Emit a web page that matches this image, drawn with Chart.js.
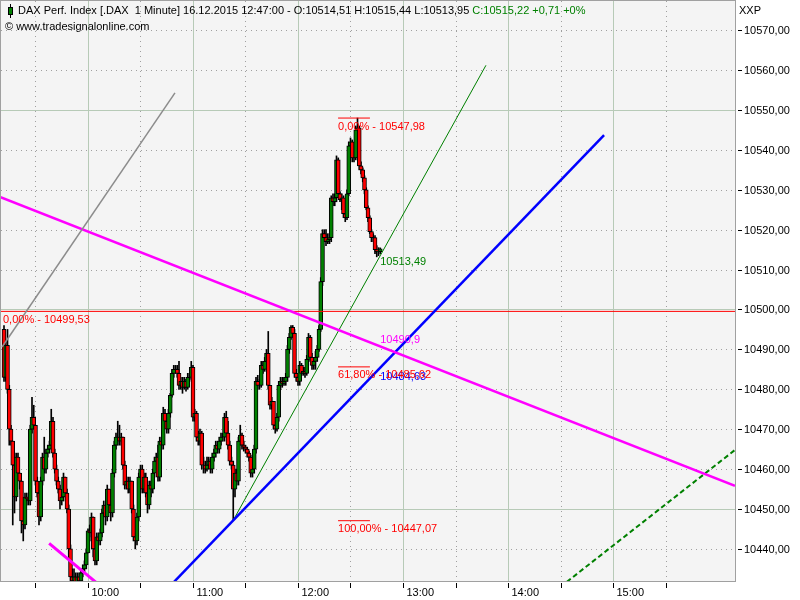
<!DOCTYPE html>
<html><head><meta charset="utf-8">
<script src="https://cdn.jsdelivr.net/npm/chart.js@4.4.0/dist/chart.umd.min.js"></script>
<style>html,body{margin:0;padding:0;background:#fff;}canvas{display:block;}</style>
</head><body>
<canvas id="c" width="800" height="600"></canvas>
<script>
// ---- DATA ----
// first candle time, minutes relative to 10:00 (09:12)
const firstMinute = -48;
const firstOpen = 10495;
const closes = [
10483,10491,10480,10470,10467,10461,10453,10463,10459,10457,10447,10446,
10453,10452.5,10452,10470,10473,10471,10457,10454,10448,10457,10463,10460,
10464,10465,10466,10472,10464,10460,10457,10455,10452,10453,10458,10454,
10450,10440,10433,10432,10433,10431,10433,10432,10434,10435,10436,10439,
10444.5,10444,10448,10440,10437,10443,10442,10444,10449,10451,10448,10455,
10451,10449,10459,10466,10468,10468,10467,10468,10461,10456,10457,10455,
10457,10450,10443,10442,10448,10458,10460,10455,10458,10454,10451,10456,
10455,10459,10462,10463,10458,10467,10466,10474,10472,10470,10474,10478.5,
10484,10485,10485,10484,10481,10482,10480.5,10482,10480.5,10483,10483,10485.5,
10473,10474,10468,10467,10469,10461,10461,10460,10461,10462,10460,10463,
10464,10466,10465,10467,10468,10468,10473,10469,10466,10462,10461,10455,
10459,10457,10467,10468.5,10466,10465.5,10465,10464,10463,10459,10460,10465,
10482,10481,10481,10486,10485,10487,10489,10481,10476,10477,10471,10470,
10473,10481,10482,10481.5,10482,10483,10490,10493,10495.5,10494,10484,10483,
10482,10486,10484,10484.5,10484,10487.5,10493,10488,10486,10487,10488,10490,
10495,10507,10519,10518,10517,10517.5,10518,10528,10527,10528,10537.5,10529,
10527.5,10528,10524,10523,10529,10541,10542,10538,10538,10545,10545.5,10536,
10535,10533,10530,10525.5,10523,10519.5,10518,10518,10515,10514.5,10514.51,10515.22
];
const highs = [
10496,10492,10495,10481,10471,10467,10464,10464,10464,10459,10457,10448,
10454,10454,10453,10471,10478,10476,10471,10458,10455,10458,10464,10468,
10465,10466,10467,10475,10473,10465,10461,10458,10456,10454,10459,10458,
10455,10451,10441,10435,10435,10434,10434,10434,10435,10436,10437,10440,
10445,10446,10449,10448,10441,10444,10444,10445,10450,10452,10451,10456,
10455,10452,10460,10467,10469,10472,10471,10469,10468,10462,10458,10458,
10458,10457,10451,10444,10449,10459,10461,10461,10459,10459,10455,10457,
10457,10460,10463,10464,10466,10468,10468,10475.5,10475,10473,10475,10479,
10485,10486,10486,10486,10487,10483,10483,10483,10482.5,10484,10484,10487,
10486,10475,10474.5,10469.5,10470,10469.5,10463,10462,10463,10463,10462.5,10464,
10465,10467,10467,10468,10469,10469,10474,10474.5,10472,10467,10463,10462,
10460,10460,10468,10471,10469,10467,10466,10465.5,10464.5,10463.5,10461,10466,
10483,10483.5,10482.5,10487,10487,10488,10490,10494.5,10481,10478,10477,10472,
10474,10482,10483,10483,10483,10484,10491,10494,10496,10496,10495,10485,
10484,10487,10486.5,10485.5,10485.5,10488.5,10494,10493.5,10489,10488,10489.5,10491,
10496,10508,10520,10520,10520,10519,10519,10528.5,10529,10529,10538.5,10538,
10529.5,10529,10528.5,10525,10530,10542,10543,10542.5,10539.5,10546,10547.98,10546,
10537,10535.5,10533.5,10530.5,10526,10523.5,10520,10519,10518.5,10516,10515.5,10515.44
];
const lows = [
10482,10482,10479,10466,10466,10446,10449,10452,10458,10455,10444,10442,
10445,10451,10451,10451,10469,10470,10456,10453,10446,10447,10456,10459,
10459,10463,10464,10465,10463,10459,10456,10454,10450,10451,10452,10453,
10449,10438,10430,10430,10431,10429,10430,10430,10431,10433,10434,10435,
10439,10442,10443,10438,10436,10436,10441,10441,10443,10448,10446,10447,
10450,10447,10448,10458,10465,10466,10466,10466,10460,10455,10455,10454,
10454,10449,10442,10440,10441,10447,10457,10454,10454,10453,10449,10450,
10453,10454,10458,10460,10457,10457,10465,10465,10471,10469,10469,10473,
10478,10483,10484,10483,10480,10480,10479,10480,10479.5,10480,10482,10482.5,
10472,10472,10467,10466,10466,10460,10459,10459,10459.5,10460,10459,10459,
10462,10463,10464,10464,10466,10467,10467,10468,10465,10461,10460,10447.07,
10453,10456,10456,10466,10465,10464.5,10464,10463,10462,10458,10458,10459,
10464,10480,10480,10480.5,10484,10484.5,10486,10480,10475,10475,10470,10469,
10469.5,10472,10480,10480.5,10481,10481,10482,10489,10492.5,10493,10483,10482,
10481,10481,10483.5,10483.5,10483,10483.5,10487,10487,10485,10485,10485,10487,
10489.5,10494.5,10506,10517,10516,10516.5,10516.5,10517,10526,10526,10527,10528,
10527,10525,10523,10522,10522.5,10528.5,10540,10537,10537,10537.5,10544,10535,
10534,10532,10529,10525,10522,10519,10517,10517,10514,10513.2,10513.5,10513.95
];

// trend lines: [minute, price]
const grayLine = [[-49.1, 10490.6], [49.7, 10554.3]];
const magentaLine = [[-50.3, 10528.2], [369.7, 10455.8]];
const magentaShortLine = [[-22.2, 10441.4], [6, 10431.1]];
const blueLine = [[48, 10431.2], [294.9, 10543.7]];
const greenLine = [[82.86, 10447.07], [227.4, 10561.2]];
const greenDashedLine = [[270, 10430.5], [369.7, 10464.8]];
const fibLeftLevel = 10499.53;
const fibLeftLabel = '0,00% - 10499,53';
const fibLevels = [10547.98, 10485.62, 10447.07];
const fibLabels = ['0,00% - 10547,98', '61,80% - 10485,62', '100,00% - 10447,07'];
const fibRange = [142.9, 161.1];
const valueLabels = [
  {text: '10513,49', value: 10513.49, color: '#008000', below: true},
  {text: '10484,63', value: 10484.63, color: '#0000ff', below: true},
  {text: '10490,9', value: 10490.9, color: '#ff00ff', below: false}
];
const yTicks = [10440,10450,10460,10470,10480,10490,10500,10510,10520,10530,10540,10550,10560,10570];
const xTickMinutes = [-30,0,30,60,90,120,150,180,210,240,270,300,330];
const hourLabels = {0:'10:00',60:'11:00',120:'12:00',180:'13:00',240:'14:00',300:'15:00'};
const headerMain = 'DAX Perf. Index [.DAX  1 Minute] 16.12.2015 12:47:00 - O:10514,51 H:10515,44 L:10513,95 ';
const headerChange = 'C:10515,22 +0,71 +0%';
const copyright = '\u00a9 www.tradesignalonline.com';

// ---- build ----
const opens = closes.map((c, i) => i === 0 ? firstOpen : closes[i - 1]);
const wickData = closes.map((c, i) => ({x: firstMinute + i,
  y: [Math.min(lows[i], opens[i], c), Math.max(highs[i], opens[i], c)]}));
const bodyData = closes.map((c, i) => ({x: firstMinute + i, y: [opens[i], c]}));
const bodyColors = closes.map((c, i) => c >= opens[i] ? '#008000' : '#ff0000');
const pts = arr => arr.map(p => ({x: p[0], y: p[1]}));
const lineDs = (arr, color, width, dash, order) => ({
  type: 'line', data: pts(arr), borderColor: color, borderWidth: width, borderDash: dash || [],
  pointRadius: 0, fill: false, tension: 0, order: order
});

const FONT = '11px "Liberation Sans"';
const deco = {
  id: 'deco',
  beforeDatasetsDraw(chart) {
    const {ctx, chartArea: a, scales: {x, y}} = chart;
    ctx.save();
    ctx.fillStyle = '#ffffff'; ctx.fillRect(0, 0, chart.width, chart.height);
    ctx.fillStyle = '#f4f4f4'; ctx.fillRect(a.left, a.top, a.right - a.left, a.bottom - a.top);
    ctx.lineWidth = 1;
    yTicks.forEach(v => {
      const py = Math.round(y.getPixelForValue(v)) + 0.5;
      if (v % 50 === 0) { ctx.setLineDash([]); ctx.strokeStyle = '#b7cab7'; }
      else { ctx.setLineDash([1, 4]); ctx.strokeStyle = '#a0a0a0'; }
      ctx.beginPath(); ctx.moveTo(a.left, py); ctx.lineTo(a.right, py); ctx.stroke();
    });
    xTickMinutes.forEach(m => {
      const px = Math.round(x.getPixelForValue(m)) + 0.5;
      if (m % 60 === 0) { ctx.setLineDash([]); ctx.strokeStyle = '#b7cab7'; }
      else { ctx.setLineDash([1, 4]); ctx.strokeStyle = '#a0a0a0'; }
      ctx.beginPath(); ctx.moveTo(px, a.top); ctx.lineTo(px, a.bottom); ctx.stroke();
    });
    ctx.restore();
  },
  afterDatasetsDraw(chart) {
    const {ctx, chartArea: a, scales: {x, y}} = chart;
    ctx.save();
    ctx.font = FONT;
    // value labels
    const lx = x.getPixelForValue(closes.length - 1 + firstMinute);
    valueLabels.forEach(l => {
      ctx.fillStyle = l.color; ctx.textAlign = 'left';
      ctx.textBaseline = l.below ? 'top' : 'bottom';
      ctx.fillText(l.text, lx, y.getPixelForValue(l.value) + (l.below ? 1 : 0));
    });
    // fib labels
    ctx.fillStyle = '#ff0000'; ctx.textBaseline = 'top';
    fibLevels.forEach((lv, i) => {
      ctx.fillText(fibLabels[i], x.getPixelForValue(fibRange[0]), y.getPixelForValue(lv) + 3);
    });
    ctx.fillText(fibLeftLabel, a.left + 2, y.getPixelForValue(fibLeftLevel) + 3);
    // frame
    ctx.strokeStyle = '#a0a0a0'; ctx.lineWidth = 1; ctx.setLineDash([]);
    ctx.strokeRect(a.left - 0.5, a.top - 0.5, a.right - a.left + 1, a.bottom - a.top + 1);
    // y axis labels
    ctx.fillStyle = '#000'; ctx.strokeStyle = '#000'; ctx.textBaseline = 'middle'; ctx.textAlign = 'left';
    yTicks.forEach(v => {
      const py = Math.round(y.getPixelForValue(v)) + 0.5;
      ctx.beginPath(); ctx.moveTo(a.right + 3, py); ctx.lineTo(a.right + 7, py); ctx.stroke();
      ctx.fillText(v.toFixed(2).replace('.', ','), a.right + 9, py);
    });
    ctx.fillText('XXP', a.right + 4, 11);
    // x axis
    xTickMinutes.forEach(m => {
      const px = Math.round(x.getPixelForValue(m)) + 0.5;
      ctx.beginPath(); ctx.moveTo(px, a.bottom + 2); ctx.lineTo(px, a.bottom + 7); ctx.stroke();
      if (hourLabels[m]) ctx.fillText(hourLabels[m], px + 3, a.bottom + 12);
    });
    // header
    ctx.strokeStyle = '#000'; ctx.beginPath(); ctx.moveTo(10.5, 4); ctx.lineTo(10.5, 18); ctx.stroke();
    ctx.fillStyle = '#008000'; ctx.fillRect(8, 7, 5, 8);
    ctx.strokeRect(8.5, 7.5, 4, 7);
    ctx.fillStyle = '#000'; ctx.textBaseline = 'middle';
    ctx.fillText(headerMain, 18, 11);
    const w = ctx.measureText(headerMain).width;
    ctx.fillStyle = '#008000'; ctx.fillText(headerChange, 18 + w, 11);
    ctx.fillStyle = '#000'; ctx.fillText(copyright, 5, 27);
    ctx.restore();
  }
};

new Chart(document.getElementById('c'), {
  type: 'bar',
  data: {
    datasets: [
      lineDs([[-100, fibLeftLevel], [500, fibLeftLevel]], '#ff0000', 1, null, 1),
      lineDs([[fibRange[0], fibLevels[0]], [fibRange[1], fibLevels[0]]], '#ff0000', 1, null, 1),
      lineDs([[fibRange[0], fibLevels[1]], [fibRange[1], fibLevels[1]]], '#ff0000', 1, null, 1),
      lineDs([[fibRange[0], fibLevels[2]], [fibRange[1], fibLevels[2]]], '#ff0000', 1, null, 1),
      lineDs(grayLine, '#8c8c8c', 1.5, null, 0),
      lineDs(magentaLine, '#ff00ff', 2.5, null, 0),
      lineDs(magentaShortLine, '#ff00ff', 3, null, 0),
      lineDs(blueLine, '#0000ff', 2.5, null, 0),
      lineDs(greenLine, '#008000', 1, null, 0),
      lineDs(greenDashedLine, '#008000', 2, [5, 3], 0),
      {type: 'bar', data: wickData, backgroundColor: '#000000', barThickness: 1, grouped: false, order: 4},
      {type: 'bar', data: bodyData, backgroundColor: bodyColors, borderColor: '#000000', borderWidth: 1,
       borderSkipped: false, barThickness: 4, grouped: false, order: 3}
    ]
  },
  options: {
    responsive: false, animation: false, events: [],
    layout: {padding: {left: 1, right: 65, top: 1, bottom: 19}},
    plugins: {legend: {display: false}, tooltip: {enabled: false}},
    scales: {
      x: {type: 'linear', display: false, offset: false, min: -49.714, max: 369.714},
      y: {type: 'linear', display: false, min: 10431.955, max: 10577.318}
    }
  },
  plugins: [deco]
});
</script>
</body></html>
